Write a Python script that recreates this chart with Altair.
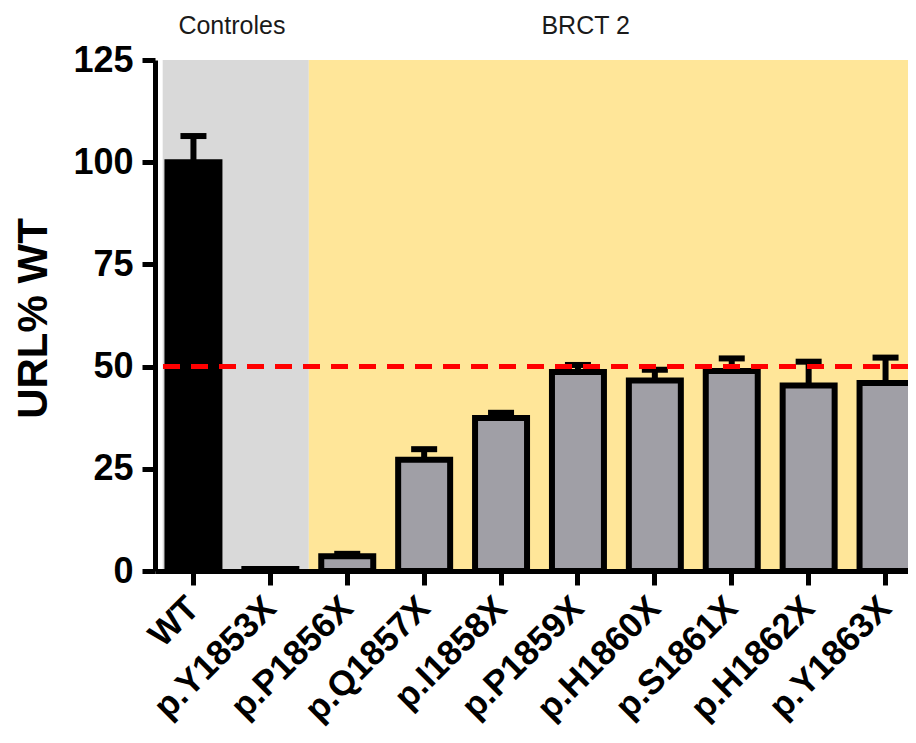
import altair as alt
import pandas as pd

# ---- data ----
categories = ["WT", "p.Y1853X", "p.P1856X", "p.Q1857X", "p.I1858X",
              "p.P1859X", "p.H1860X", "p.S1861X", "p.H1862X", "p.Y1863X"]
means = [100.0, 0.5, 3.6, 27.2, 37.4, 48.7, 46.6, 48.9, 45.4, 46.0]
uppers = [106.4, 0.5, 4.2, 29.8, 38.7, 50.4, 49.2, 52.0, 51.2, 52.2]
bar_fills = ["#000000"] + ["#a09fa6"] * 9

region_names = ["Controles", "BRCT 2"]
region_start = [0.1, 2.0]      # in category-step units
region_end = [2.0, 10.0]
region_bottom = [0, 0]
region_top = [125, 125]
region_colors = ["#d9d9d9", "#ffe699"]
region_label_x = [1.0, 5.6]

threshold = [50]
y_ticks = [0, 25, 50, 75, 100, 125]

FONT = "Liberation Sans"

bars_df = pd.DataFrame({"cat": categories, "mean": means, "upper": uppers, "fill": bar_fills})
reg_df = pd.DataFrame({"name": region_names, "start": region_start, "end": region_end,
                       "ylo": region_bottom, "yhi": region_top, "color": region_colors,
                       "lx": region_label_x})
thr_df = pd.DataFrame({"y": threshold})

STEP_RANGE = [0, 769]
xs = alt.Scale(domain=categories, range=STEP_RANGE, paddingInner=0, paddingOuter=0)
bxs = alt.Scale(domain=[0, 10], range=STEP_RANGE, nice=False, zero=False)
ys = alt.Scale(domain=[0, 125], nice=False, zero=True)

yaxis = alt.Axis(values=y_ticks, title="URL% WT", titleFont=FONT, titleFontSize=42,
                 titleFontWeight="bold", titleColor="black", titleX=-122, titleY=258,
                 titleAngle=-90, titleAlign="center", titleBaseline="middle",
                 labelFont=FONT, labelFontSize=36, labelFontWeight="bold", labelColor="black",
                 labelPadding=9, tickSize=13, tickWidth=5, tickColor="black",
                 domainWidth=5, domainColor="black", grid=False, zindex=1)
xaxis = alt.Axis(title=None, labelAngle=-45, labelAlign="right", labelBaseline="middle",
                 labelFont=FONT, labelFontSize=35, labelFontWeight="bold", labelColor="black",
                 labelPadding=17, labelOverlap=False, labelBound=False, labelFlush=False,
                 tickSize=14, tickWidth=5, tickColor="black",
                 domainWidth=5, domainColor="black", grid=False, zindex=1)

bg = alt.Chart(reg_df).mark_rect().encode(
    x=alt.X("start:Q", scale=bxs, axis=None),
    x2="end:Q",
    y=alt.Y("ylo:Q", scale=ys, axis=yaxis),
    y2="yhi:Q",
    color=alt.Color("color:N", scale=None),
)

region_text = alt.Chart(reg_df).mark_text(font=FONT, fontSize=25, color="#1a1a1a",
                                          baseline="middle", align="center").encode(
    x=alt.X("lx:Q", scale=bxs, axis=None),
    y=alt.value(-34),
    text="name:N",
)

stems = alt.Chart(bars_df).mark_rule(color="black", strokeWidth=6).encode(
    x=alt.X("cat:N", scale=xs, sort=categories, axis=None),
    y=alt.Y("mean:Q", scale=ys, axis=yaxis),
    y2="upper:Q",
)

caps = alt.Chart(bars_df).mark_tick(color="black", thickness=6, size=26, opacity=1).encode(
    x=alt.X("cat:N", scale=xs, sort=categories, axis=None),
    y=alt.Y("upper:Q", scale=ys, axis=yaxis),
)

bars = alt.Chart(bars_df).mark_bar(stroke="black", strokeWidth=6, strokeJoin="miter",
                                   width=alt.RelativeBandSize(0.676)).encode(
    x=alt.X("cat:N", scale=xs, sort=categories, axis=xaxis),
    y=alt.Y("mean:Q", scale=ys, axis=yaxis),
    color=alt.Color("fill:N", scale=None),
)

rule = alt.Chart(thr_df).mark_rule(color="#ff0000", strokeWidth=5, strokeDash=[17, 11]).encode(
    y=alt.Y("y:Q", scale=ys, axis=yaxis),
)

chart = alt.layer(bg, region_text, stems, caps, bars, rule).resolve_scale(
    x="independent"
).properties(
    width=753,
    height=511,
    autosize=alt.AutoSizeParams(type="none"),
    padding={"left": 147, "top": 52, "right": 0, "bottom": 164},
    background="white",
).configure_view(stroke=None)

chart.save("out.html", embed_options={"renderer": "svg", "actions": False})
